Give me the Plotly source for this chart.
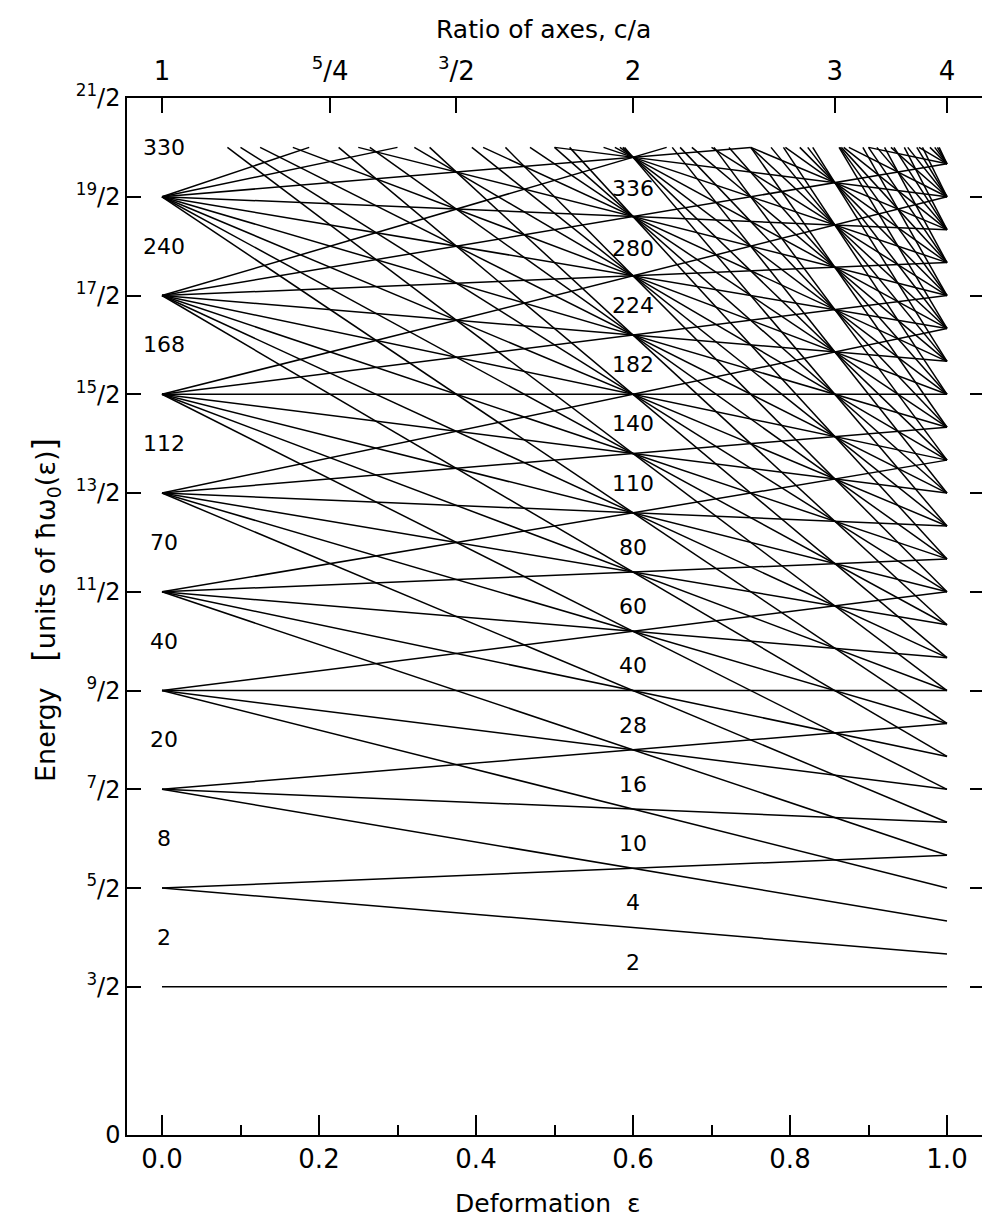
import plotly.graph_objects as go

# ---------------- data ----------------
# oscillator shells N (levels start at E = N + 3/2 at eps = 0)
shells = [0, 1, 2, 3, 4, 5, 6, 7, 8, 9, 10, 11, 12, 13, 14, 15, 16, 17, 18, 19, 20, 21, 22, 23, 24, 25]
E_clip = 10.0            # levels are drawn up to this energy
eps_start, eps_end = 0.0, 1.0

# magic numbers at spherical shape (eps = 0) and at c/a = 2 (eps = 0.6)
magic_sph = ["2", "8", "20", "40", "70", "112", "168", "240", "330"]
magic_sph_E = [2, 3, 4, 5, 6, 7, 8, 9, 10]
magic_def = ["2", "4", "10", "16", "28", "40", "60", "80", "110", "140", "182", "224", "280", "336"]
magic_def_E = [1.75, 2.35, 2.95, 3.55, 4.15, 4.75, 5.35, 5.95, 6.6, 7.2, 7.8, 8.4, 8.98, 9.58]

# axis ticks
y_tickvals = [0, 1.5, 2.5, 3.5, 4.5, 5.5, 6.5, 7.5, 8.5, 9.5, 10.5]
y_ticktext = ["0", "<sup>3</sup>/2", "<sup>5</sup>/2", "<sup>7</sup>/2", "<sup>9</sup>/2", "<sup>11</sup>/2",
              "<sup>13</sup>/2", "<sup>15</sup>/2", "<sup>17</sup>/2", "<sup>19</sup>/2", "<sup>21</sup>/2"]
x_tickvals = [0.0, 0.2, 0.4, 0.6, 0.8, 1.0]
x_ticktext = ["0.0", "0.2", "0.4", "0.6", "0.8", "1.0"]
x_minor = [0.1, 0.3, 0.5, 0.7, 0.9]
ca_values = [1.0, 1.25, 1.5, 2.0, 3.0, 4.0]
ca_text = ["1", "<sup>5</sup>/4", "<sup>3</sup>/2", "2", "3", "4"]

# ---------------- level lines (deformed oscillator: E = N+3/2 + eps (N - 3 n_z)/3) ----------------
xs, ys = [], []
for N in shells:
    E0 = N + 1.5
    for nz in range(N + 1):
        s = (N - 3 * nz) / 3.0
        a, b = eps_start, eps_end
        if E0 > E_clip:
            if s >= 0:
                continue
            a = max(a, (E_clip - E0) / s)
            if a >= b:
                continue
        elif s > 0:
            b = min(b, (E_clip - E0) / s)
        xs += [a, b, None]
        ys += [E0 + s * a, E0 + s * b, None]

fig = go.Figure()
fig.add_trace(go.Scatter(x=xs, y=ys, mode="lines", line=dict(color="black", width=1.5),
                         hoverinfo="skip", showlegend=False))
# invisible trace for the top (c/a) axis
ca_eps = [3 * (r - 1) / (1 + 2 * r) for r in ca_values]
fig.add_trace(go.Scatter(x=ca_eps, y=[0] * len(ca_eps), xaxis="x2", mode="markers",
                         marker=dict(opacity=0), hoverinfo="skip", showlegend=False))

FONT = "DejaVu Sans"
for t, e in zip(magic_sph, magic_sph_E):
    fig.add_annotation(x=0.003, y=e, text=t, showarrow=False, xref="x", yref="y",
                       xanchor="center", yanchor="middle",
                       font=dict(size=22, color="black", family=FONT))
for t, e in zip(magic_def, magic_def_E):
    fig.add_annotation(x=0.6, y=e, text=t, showarrow=False, xref="x", yref="y",
                       xanchor="center", yanchor="middle",
                       font=dict(size=22, color="black", family=FONT))

# page has an 8 px body margin: work in page pixels and shift
OFF = 8
W, H = 990 - OFF, 1221 - OFF
L, T = 127 - OFF, 98 - OFF
R = W - (984 - OFF)
B = H - (1135 - OFF)
pw, ph = W - L - R, H - T - B
def px(xp):
    return (xp - OFF - L) / pw
def py(yp):
    return (H - B - (yp - OFF)) / ph

fig.add_annotation(x=px(543), y=py(30), xref="paper", yref="paper", text="Ratio of axes, c/a",
                   xanchor="center", yanchor="middle",
                   showarrow=False, font=dict(size=25, color="black", family=FONT))
fig.add_annotation(x=px(548), y=py(1203), xref="paper", yref="paper", text="Deformation  ε",
                   xanchor="center", yanchor="middle",
                   showarrow=False, font=dict(size=25, color="black", family=FONT))
fig.add_annotation(x=px(45), y=py(610), xref="paper", yref="paper",
                   text="Energy   <span style='font-size:32px'>[</span>units of ħω<sub>0</sub>(ε)<span style='font-size:32px'>]</span>",
                   textangle=-90, xanchor="center", yanchor="middle",
                   showarrow=False, font=dict(size=27, color="black", family=FONT))

x_range = [(127 - 162) / 785.0, (984 - 162) / 785.0]
fig.update_layout(
    width=W, height=H,
    margin=dict(l=L, r=R, t=T, b=B, autoexpand=False),
    paper_bgcolor="white", plot_bgcolor="white",
    font=dict(family=FONT, color="black"),
    xaxis=dict(range=x_range, tickvals=x_tickvals, ticktext=x_ticktext, ticks="inside",
               ticklen=20, tickwidth=1.5, tickcolor="black", showline=True, linecolor="black",
               linewidth=1.5, showgrid=False, zeroline=False, tickfont=dict(size=26),
               automargin=False,
               minor=dict(tickvals=x_minor, ticks="inside", ticklen=10, tickwidth=1.5,
                          tickcolor="black", showgrid=False)),
    xaxis2=dict(range=x_range, overlaying="x", side="top", tickvals=ca_eps, ticktext=ca_text,
                ticks="inside", ticklen=15, tickwidth=1.5, tickcolor="black", showline=True,
                linecolor="black", linewidth=1.5, showgrid=False, zeroline=False,
                tickfont=dict(size=26), ticklabelstandoff=6, automargin=False),
    yaxis=dict(range=[0, 10.5], tickvals=y_tickvals, ticktext=y_ticktext, ticks="inside",
               ticklen=14, tickwidth=1.5, tickcolor="black", showline=True, linecolor="black",
               linewidth=1.5, mirror="ticks", showgrid=False, zeroline=False,
               tickfont=dict(size=24), automargin=False),
)

fig.write_html("out.html")
